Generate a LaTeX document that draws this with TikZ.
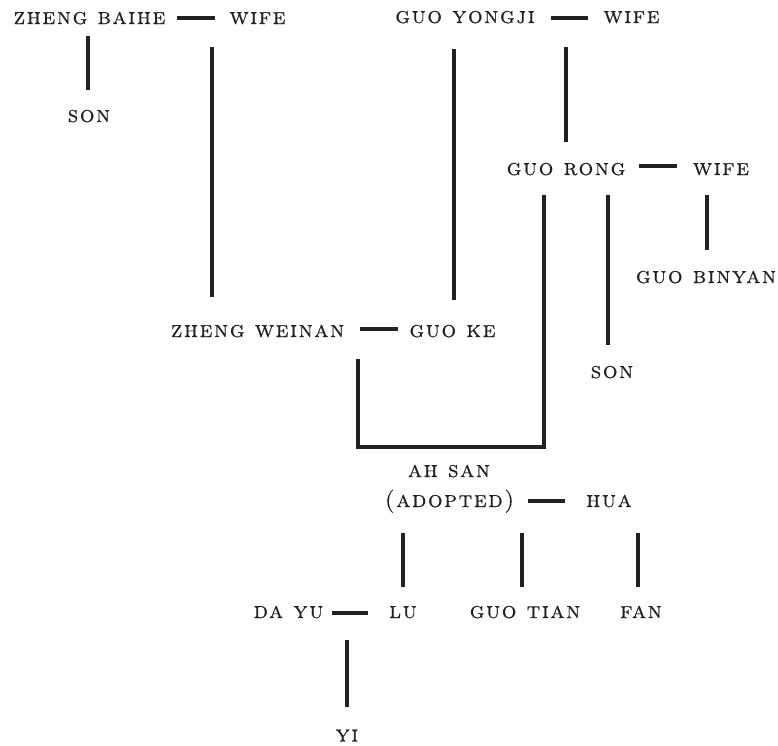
\documentclass[tikz,border=0pt]{standalone}
\usepackage{fontspec}
\newfontfamily\scf{lmromancaps10-regular}[Extension=.otf, LetterSpace=7, FakeBold=0.6]
\definecolor{ink}{HTML}{222222}
\tikzset{
  nm/.style={font=\scf\fontsize{23}{27}\selectfont, text=ink, inner sep=0pt, anchor=base},
  rel/.style={line width=3.2pt, draw=ink}
}
\begin{document}
\begin{tikzpicture}[x=1pt,y=-1pt]
\useasboundingbox (0,0) rectangle (778,745);
% names
\node[nm] (zb) at (89.5,24) {zheng baihe};
\node[nm] (w1) at (257.5,24) {wife};
\node[nm] (gy) at (465,23) {guo yongji};
\node[nm] (w2) at (631.5,23) {wife};
\node[nm] (son1) at (89,122) {son};
\node[nm] (gr) at (566,175) {guo rong};
\node[nm] (w3) at (721,175) {wife};
\node[nm] (gb) at (706,283) {guo binyan};
\node[nm] (zw) at (257.5,337) {zheng weinan};
\node[nm] (gk) at (452.5,337) {guo ke};
\node[nm] (son2) at (612,378) {son};
\node[nm] (ahsan) at (449,477) {ah san};
\node[nm] (adopted) at (449.5,507) {(adopted)};
\node[nm] (hua) at (609,507) {hua};
\node[nm] (dayu) at (288.5,618) {da yu};
\node[nm] (lu) at (403,618) {lu};
\node[nm] (guotian) at (525,618) {guo tian};
\node[nm] (fan) at (641,618) {fan};
\node[nm] (yi) at (347,741.5) {yi};
% marriage dashes
\coordinate (m1a) at (177,18); \coordinate (m1b) at (215,18);
\coordinate (m2a) at (551,18); \coordinate (m2b) at (588,18);
\coordinate (m3a) at (639,166); \coordinate (m3b) at (677,166);
\coordinate (m4a) at (360,329); \coordinate (m4b) at (398,329);
\coordinate (m5a) at (528,501); \coordinate (m5b) at (565,501);
\coordinate (m6a) at (332,613); \coordinate (m6b) at (368,613);
\foreach \a/\b in {m1a/m1b,m2a/m2b,m3a/m3b,m4a/m4b,m5a/m5b,m6a/m6b}
  \draw[rel] (\a) -- (\b);
% descent lines
\coordinate (l1a) at (88,36);   \coordinate (l1b) at (88,90);
\coordinate (l2a) at (212,47);  \coordinate (l2b) at (212,297);
\coordinate (l3a) at (454,49);  \coordinate (l3b) at (454,300);
\coordinate (l4a) at (566,47);  \coordinate (l4b) at (566,142);
\coordinate (l6a) at (608,195); \coordinate (l6b) at (608,345);
\coordinate (l7a) at (707,195); \coordinate (l7b) at (707,250);
\coordinate (l8a) at (403,533); \coordinate (l8b) at (403,587);
\coordinate (l9a) at (522,533); \coordinate (l9b) at (522,587);
\coordinate (l10a) at (638,533); \coordinate (l10b) at (638,587);
\coordinate (l11a) at (347,640); \coordinate (l11b) at (347,707);
\foreach \a/\b in {l1a/l1b,l2a/l2b,l3a/l3b,l4a/l4b,l6a/l6b,l7a/l7b,l8a/l8b,l9a/l9b,l10a/l10b,l11a/l11b}
  \draw[rel] (\a) -- (\b);
% adoption bracket
\coordinate (b1) at (544,195); \coordinate (b2) at (544,447);
\coordinate (b3) at (358,447); \coordinate (b4) at (358,359);
\draw[rel, line join=miter] (b1) -- (b2) -- (b3) -- (b4);
\end{tikzpicture}
\end{document}
